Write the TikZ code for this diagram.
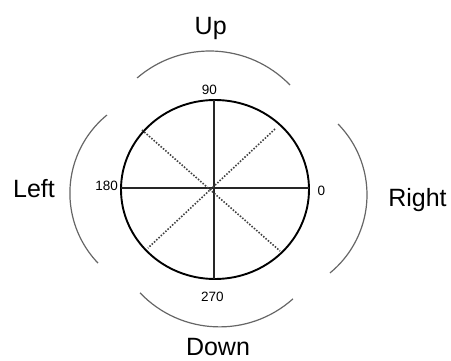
\documentclass[tikz,border=0pt]{standalone}
\usepackage{fontspec}
\setmainfont{Liberation Sans}
\begin{document}
\begin{tikzpicture}[x=1pt,y=1pt,
  bigtxt/.style={font=\fontsize{25}{28}\selectfont, inner sep=0pt, anchor=base},
  smalltxt/.style={font=\fontsize{13.5}{15}\selectfont, inner sep=0pt, anchor=base},
  rim/.style={line width=1.9pt, black},
  axisline/.style={line width=1.8pt, black!85},
  diagline/.style={line width=1.6pt, black!75, dash pattern=on 1.5pt off 1.6pt},
  outerarc/.style={line width=1.2pt, black!60}]
\useasboundingbox (0,0) rectangle (451,360);
% centre and circle
\coordinate (O) at (215,170.5);
\draw[rim] (O) ellipse [x radius=94, y radius=89.5];
% axis end points
\coordinate (top) at (214,260);
\coordinate (bot) at (214,81);
\coordinate (lft) at (121,172);
\coordinate (rgt) at (309,172);
\draw[axisline] (top) -- (bot);
\draw[axisline] (lft) -- (rgt);
% diagonal dotted lines
\coordinate (ul) at (142,230);
\coordinate (ur) at (275,231);
\coordinate (ll) at (148,112);
\coordinate (lr) at (280,109);
\draw[diagline] (ul) -- (lr);
\draw[diagline] (ur) -- (ll);
% outer arcs
\coordinate (cu) at (209.8,197.5);
\coordinate (cd) at (219.6,143.1);
\coordinate (cl) at (170.9,166.8);
\coordinate (cr) at (266,165.2);
\draw[outerarc] (cu) ++(44:111.5) arc[start angle=44, end angle=130.7, radius=111.5];
\draw[outerarc] (cd) ++(223.7:110) arc[start angle=223.7, end angle=311.8, radius=110];
\draw[outerarc] (cl) ++(129.3:101) arc[start angle=129.3, end angle=223.8, radius=101];
\draw[outerarc] (cr) ++(-50.7:101) arc[start angle=-50.7, end angle=44.5, radius=101];
% labels
\node[bigtxt] (up) at (210.7,325.7) {Up};
\node[bigtxt] (down) at (218,5) {Down};
\node[bigtxt] (left) at (34,162.7) {Left};
\node[bigtxt] (right) at (417.5,153.3) {Right};
\node[smalltxt] (n90) at (209.5,265.7) {90};
\node[smalltxt] (n180) at (106.7,170) {180};
\node[smalltxt] (n0) at (321.3,165) {0};
\node[smalltxt] (n270) at (212.3,58.3) {270};
\end{tikzpicture}
\end{document}
